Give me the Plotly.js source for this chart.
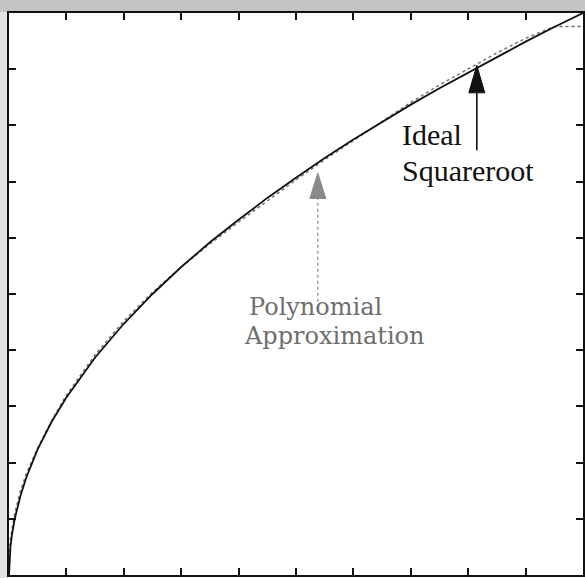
<!DOCTYPE html>
<html>
<head>
<meta charset="utf-8">
<script src="https://cdn.plot.ly/plotly-3.0.1.min.js"></script>
<style>html,body{margin:0;padding:0;background:#fff;}#chart{width:585px;height:578px;}</style>
</head>
<body>
<div id="chart"></div>
<script>
// Sample positions along the horizontal axis (fraction of full scale)
const xInput = [0, 0.001, 0.0025, 0.005, 0.01, 0.02, 0.03, 0.05, 0.075, 0.1, 0.15, 0.2, 0.25, 0.3, 0.35, 0.4, 0.45, 0.5, 0.55, 0.6, 0.65, 0.7, 0.75, 0.8, 0.85, 0.9, 0.95, 0.97, 1.0];
// Ideal square-root curve
const idealValues = [0, 0.032, 0.05, 0.071, 0.1, 0.141, 0.173, 0.224, 0.274, 0.316, 0.387, 0.447, 0.5, 0.548, 0.592, 0.632, 0.671, 0.707, 0.742, 0.775, 0.806, 0.837, 0.866, 0.894, 0.922, 0.949, 0.975, 0.985, 1.0];
// Polynomial approximation
const polyValues = [0.03, 0.05, 0.065, 0.08, 0.11, 0.15, 0.18, 0.226, 0.276, 0.32, 0.392, 0.452, 0.503, 0.548, 0.589, 0.628, 0.666, 0.703, 0.739, 0.773, 0.807, 0.841, 0.872, 0.901, 0.929, 0.955, 0.976, 0.976, 0.976];

const labelIdeal = ["Ideal", "Squareroot"];
const labelPoly = ["Polynomial", "Approximation"];

const traces = [
  {x: xInput, y: polyValues, type: 'scatter', mode: 'lines', name: 'Polynomial Approximation',
   line: {color: '#6e6e6e', width: 1.4, dash: 'dot'}, hoverinfo: 'skip'},
  {x: xInput, y: idealValues, type: 'scatter', mode: 'lines', name: 'Ideal Squareroot',
   line: {color: '#111111', width: 1.8}, hoverinfo: 'skip'}
];

const axisCommon = {
  range: [0, 1], dtick: 0.1, tick0: 0, ticks: 'inside', ticklen: 7, tickwidth: 2, tickcolor: '#111',
  showticklabels: false, showgrid: false, zeroline: false, showline: true, linewidth: 2, linecolor: '#111',
  mirror: 'ticks', fixedrange: true
};

// plot area size in pixels (used only for the decorative frame bands)
const W = 574, H = 562;

const layout = {
  width: 585, height: 578,
  margin: {l: 9, r: 2, t: 13, b: 3, pad: 0},
  paper_bgcolor: '#ffffff', plot_bgcolor: '#ffffff',
  showlegend: false,
  xaxis: Object.assign({}, axisCommon),
  yaxis: Object.assign({}, axisCommon),
  shapes: [
    // scanned grey band on top and left edge
    {type: 'rect', xref: 'paper', yref: 'paper', x0: -9/W, x1: 1 + 2/W, y0: 1 + 1/H, y1: 1 + 13/H,
     fillcolor: '#c4c4c4', line: {width: 0}, layer: 'below'},
    {type: 'rect', xref: 'paper', yref: 'paper', x0: -9/W, x1: -1/W, y0: -3/H, y1: 1 + 1/H,
     fillcolor: '#e2e2e2', line: {width: 0}, layer: 'below'},
    // black arrow shaft + head
    {type: 'line', xref: 'x', yref: 'y', x0: 0.815, x1: 0.815, y0: 0.756, y1: 0.86,
     line: {color: '#111', width: 1.6}},
    {type: 'path', xref: 'x', yref: 'y',
     path: 'M0.815,0.907 L0.8011,0.858 L0.8289,0.858 Z', fillcolor: '#111', line: {color: '#111', width: 1}},
    // grey arrow shaft + head
    {type: 'line', xref: 'x', yref: 'y', x0: 0.538, x1: 0.538, y0: 0.486, y1: 0.67,
     line: {color: '#8a8a8a', width: 1.2, dash: 'dot'}},
    {type: 'path', xref: 'x', yref: 'y',
     path: 'M0.538,0.715 L0.5241,0.67 L0.5519,0.67 Z', fillcolor: '#8a8a8a', line: {color: '#8a8a8a', width: 1}}
  ],
  annotations: [
    {text: labelIdeal[0], x: 0.681, y: 0.783, xref: 'x', yref: 'y', xanchor: 'left', yanchor: 'middle',
     showarrow: false, font: {family: 'Liberation Serif, Times New Roman, serif', size: 30, color: '#111'}},
    {text: labelIdeal[1], x: 0.681, y: 0.72, xref: 'x', yref: 'y', xanchor: 'left', yanchor: 'middle',
     showarrow: false, font: {family: 'Liberation Serif, Times New Roman, serif', size: 30, color: '#111'}},
    {text: labelPoly[0], x: 0.415, y: 0.476, xref: 'x', yref: 'y', xanchor: 'left', yanchor: 'middle',
     showarrow: false, font: {family: 'DejaVu Serif, serif', size: 24, color: '#6e6e6e'}},
    {text: labelPoly[1], x: 0.406, y: 0.425, xref: 'x', yref: 'y', xanchor: 'left', yanchor: 'middle',
     showarrow: false, font: {family: 'DejaVu Serif, serif', size: 24, color: '#6e6e6e'}}
  ]
};

Plotly.newPlot('chart', traces, layout, {staticPlot: true, displayModeBar: false});
</script>
</body>
</html>
